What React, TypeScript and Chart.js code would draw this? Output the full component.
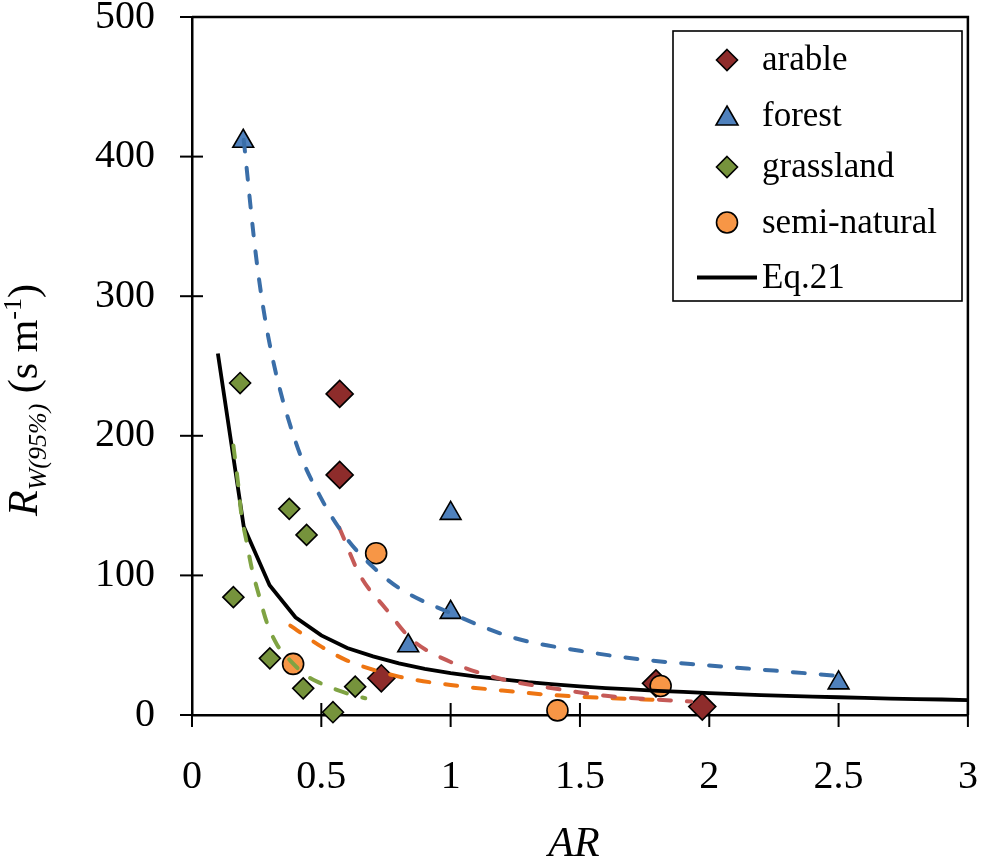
import React, { useEffect, useRef } from "react";
import { Chart, registerables } from "chart.js";

Chart.register(...registerables);

// ---- Data ----
const arableX = [0.571, 0.571, 0.732, 1.794, 1.973];
const arableY = [230, 172, 26.3, 22.7, 6.0];

const forestX = [0.198, 1.0, 1.0, 0.836, 2.5];
const forestY = [411, 144.4, 73.5, 49.6, 23];

const grassX = [0.186, 0.376, 0.443, 0.16, 0.301, 0.43, 0.631, 0.545];
const grassY = [237.8, 147.7, 129, 84.4, 40.6, 19.1, 20.3, 2.0];

const semiX = [0.712, 0.391, 1.413, 1.812];
const semiY = [115.9, 36.6, 3.3, 20.8];

const eqX = [0.1, 0.2, 0.3, 0.4, 0.5, 0.6, 0.7, 0.8, 0.9, 1.0, 1.1, 1.2, 1.3, 1.4, 1.5, 1.6, 1.7, 1.8, 1.9, 2.0, 2.1, 2.2, 2.3, 2.4, 2.5, 2.6, 2.7, 2.8, 2.9, 3.0];
const eqY = [259, 135, 93, 70, 57, 48, 42, 37, 33, 30, 27.5, 25.5, 23.5, 22, 20.5, 19.3, 18.3, 17.3, 16.5, 15.7, 15, 14.3, 13.7, 13.2, 12.7, 12.2, 11.8, 11.4, 11.1, 10.7];

const trendForestX = [0.2, 0.25, 0.3, 0.4, 0.5, 0.6, 0.7, 0.8, 1.0, 1.25, 1.5, 1.75, 2.0, 2.25, 2.5];
const trendForestY = [412, 325, 266, 196, 155, 126, 106, 91, 73, 55, 46, 39.5, 35.5, 31.8, 28];

const trendArableX = [0.57, 0.65, 0.75, 0.85, 1.0, 1.2, 1.4, 1.6, 1.8, 1.93];
const trendArableY = [134, 100, 76, 54, 38, 25.6, 19, 13.8, 11, 9.6];

const trendSemiX = [0.38, 0.5, 0.6, 0.8, 1.0, 1.2, 1.4, 1.6, 1.81];
const trendSemiY = [64, 49, 39, 27.5, 21.5, 17.5, 14.2, 12.2, 10.7];

const trendGrassX = [0.16, 0.18, 0.19, 0.21, 0.23, 0.26, 0.29, 0.33, 0.38, 0.44, 0.5, 0.56, 0.62, 0.67];
const trendGrassY = [193, 163, 145, 125, 106, 85, 66, 50, 39, 28.5, 22.5, 18, 14.3, 12];

const xTicks = [0, 0.5, 1, 1.5, 2, 2.5, 3];
const yTicks = [0, 100, 200, 300, 400, 500];

const legendLabels = ["arable", "forest", "grassland", "semi-natural", "Eq.21"];

const COL_ARABLE = "#8E2C2B";
const COL_FOREST = "#4F81BD";
const COL_GRASS = "#76933C";
const COL_SEMI = "#F79646";

const SERIF = '"Liberation Serif", "Times New Roman", serif';

const pts = (xs: number[], ys: number[]) => xs.map((x, i) => ({ x, y: ys[i] }));

function drawMarker(ctx: CanvasRenderingContext2D, kind: string, x: number, y: number, r: number, fill: string) {
  ctx.save();
  ctx.beginPath();
  if (kind === "diamond") {
    ctx.moveTo(x, y - r);
    ctx.lineTo(x + r, y);
    ctx.lineTo(x, y + r);
    ctx.lineTo(x - r, y);
    ctx.closePath();
  } else if (kind === "triangle") {
    const h = r * 1.73;
    ctx.moveTo(x, y - h / 2);
    ctx.lineTo(x + r, y + h / 2);
    ctx.lineTo(x - r, y + h / 2);
    ctx.closePath();
  } else {
    ctx.arc(x, y, r, 0, Math.PI * 2);
  }
  ctx.fillStyle = fill;
  ctx.fill();
  ctx.lineWidth = 1.6;
  ctx.strokeStyle = "#000";
  ctx.lineJoin = "miter";
  ctx.stroke();
  ctx.restore();
}

const customPlugin = {
  id: "customDraw",
  beforeDatasetsDraw(chart: any) {
    const { ctx, chartArea } = chart;
    const xs = chart.scales.x;
    const ys = chart.scales.y;
    ctx.save();
    ctx.strokeStyle = "#000";
    ctx.lineWidth = 2.5;
    ctx.beginPath();
    ctx.moveTo(chartArea.left, chartArea.top);
    ctx.lineTo(chartArea.right, chartArea.top);
    ctx.lineTo(chartArea.right, chartArea.bottom);
    ctx.stroke();
    ctx.lineWidth = 2;
    yTicks.forEach((v) => {
      const py = ys.getPixelForValue(v);
      ctx.beginPath();
      ctx.moveTo(chartArea.left - 12, py);
      ctx.lineTo(chartArea.left + 11, py);
      ctx.stroke();
    });
    xTicks.forEach((v) => {
      const px = xs.getPixelForValue(v);
      ctx.beginPath();
      ctx.moveTo(px, chartArea.bottom - 12);
      ctx.lineTo(px, chartArea.bottom + 12);
      ctx.stroke();
    });
    ctx.restore();
  },
  afterDraw(chart: any) {
    const { ctx } = chart;
    ctx.save();
    ctx.fillStyle = "#000";
    ctx.font = `italic 42px ${SERIF}`;
    ctx.textAlign = "center";
    ctx.textBaseline = "alphabetic";
    ctx.fillText("AR", 574, 856);

    const segs = [
      { t: "R", f: `italic 42px ${SERIF}`, dy: 0 },
      { t: "W(95%)", f: `italic 26px ${SERIF}`, dy: 9 },
      { t: " (s m", f: `42px ${SERIF}`, dy: 0 },
      { t: "-1", f: `26px ${SERIF}`, dy: -16 },
      { t: ")", f: `42px ${SERIF}`, dy: 0 },
    ];
    let total = 0;
    segs.forEach((s) => {
      ctx.font = s.f;
      total += ctx.measureText(s.t).width;
    });
    ctx.translate(37, 400);
    ctx.rotate(-Math.PI / 2);
    ctx.textAlign = "left";
    let cx = -total / 2;
    segs.forEach((s) => {
      ctx.font = s.f;
      ctx.fillText(s.t, cx, s.dy);
      cx += ctx.measureText(s.t).width;
    });
    ctx.setTransform(1, 0, 0, 1, 0, 0);

    const lx = 673, ly = 31, lw = 289, lh = 270;
    ctx.fillStyle = "#fff";
    ctx.fillRect(lx, ly, lw, lh);
    ctx.strokeStyle = "#000";
    ctx.lineWidth = 1.6;
    ctx.strokeRect(lx, ly, lw, lh);
    const rowY = [60, 115.5, 167, 222.5, 277.5];
    const kinds = ["diamond", "triangle", "diamond", "circle", "line"];
    const fills = [COL_ARABLE, COL_FOREST, COL_GRASS, COL_SEMI, "#000"];
    rowY.forEach((y, i) => {
      if (kinds[i] === "line") {
        ctx.beginPath();
        ctx.strokeStyle = "#000";
        ctx.lineWidth = 4;
        ctx.moveTo(697, y);
        ctx.lineTo(757, y);
        ctx.stroke();
      } else {
        drawMarker(ctx, kinds[i], 727, y, kinds[i] === "triangle" ? 11 : 10.5, fills[i]);
      }
      ctx.fillStyle = "#000";
      ctx.font = `35px ${SERIF}`;
      ctx.textAlign = "left";
      ctx.textBaseline = "alphabetic";
      ctx.fillText(legendLabels[i], 762, y + 10);
    });
    ctx.restore();
  },
};

const dashed = (label: string, xs: number[], ys: number[], color: string) => ({
  label,
  data: pts(xs, ys),
  showLine: true,
  borderColor: color,
  borderWidth: 4,
  borderDash: [12, 16],
  borderCapStyle: "round",
  pointRadius: 0,
  pointHoverRadius: 0,
  cubicInterpolationMode: "monotone",
  fill: false,
  clip: false,
  order: 0,
});

export default function App() {
  const ref = useRef<HTMLCanvasElement | null>(null);
  useEffect(() => {
    if (!ref.current) return;
    const chart = new Chart(ref.current, {
      type: "scatter",
      data: {
        datasets: [
          dashed("trend forest", trendForestX, trendForestY, "#3A6EA8"),
          dashed("trend arable", trendArableX, trendArableY, "#C55A57"),
          dashed("trend semi", trendSemiX, trendSemiY, "#EE7512"),
          dashed("trend grass", trendGrassX, trendGrassY, "#7FA343"),
          {
            label: "Eq.21",
            data: pts(eqX, eqY),
            showLine: true,
            borderColor: "#000",
            borderWidth: 3.8,
            pointRadius: 0,
            tension: 0,
            clip: false,
            order: 1,
          } as any,
          {
            label: "semi-natural",
            data: pts(semiX, semiY),
            pointStyle: "circle",
            pointRadius: 10.5,
            backgroundColor: COL_SEMI,
            borderColor: "#000",
            borderWidth: 1.6,
            clip: false,
            order: 2,
          },
          {
            label: "grassland",
            data: pts(grassX, grassY),
            pointStyle: "rectRot",
            pointRadius: 10.5,
            backgroundColor: COL_GRASS,
            borderColor: "#000",
            borderWidth: 1.6,
            clip: false,
            order: 3,
          },
          {
            label: "forest",
            data: pts(forestX, forestY),
            pointStyle: "triangle",
            pointRadius: 12,
            backgroundColor: COL_FOREST,
            borderColor: "#000",
            borderWidth: 1.6,
            clip: false,
            order: 4,
          },
          {
            label: "arable",
            data: pts(arableX, arableY),
            pointStyle: "rectRot",
            pointRadius: 13.5,
            backgroundColor: COL_ARABLE,
            borderColor: "#000",
            borderWidth: 1.6,
            clip: false,
            order: 5,
          },
        ] as any,
      },
      options: {
        animation: false,
        responsive: false,
        maintainAspectRatio: false,
        layout: { padding: { left: 0, top: 17, right: 12, bottom: 0 } },
        plugins: {
          legend: { display: false },
          tooltip: { enabled: false },
        },
        scales: {
          x: {
            type: "linear",
            min: 0,
            max: 3,
            afterBuildTicks: (scale: any) => {
              scale.ticks = xTicks.map((v) => ({ value: v }));
            },
            afterFit: (scale: any) => {
              scale.height = 147;
              scale.paddingLeft = 0;
              scale.paddingRight = 0;
            },
            grid: { display: false, drawTicks: false },
            border: { display: true, color: "#000", width: 2.5 },
            ticks: {
              padding: 38,
              color: "#000",
              maxRotation: 0,
              autoSkip: false,
              font: { family: SERIF, size: 40, lineHeight: 1.2 },
              callback: (v: any) => String(v),
            },
          },
          y: {
            type: "linear",
            min: 0,
            max: 500,
            afterBuildTicks: (scale: any) => {
              scale.ticks = yTicks.map((v) => ({ value: v }));
            },
            afterFit: (scale: any) => {
              scale.width = 192;
              scale.paddingTop = 0;
              scale.paddingBottom = 0;
            },
            grid: { display: false, drawTicks: false },
            border: { display: true, color: "#000", width: 2.5 },
            ticks: {
              padding: 37,
              color: "#000",
              autoSkip: false,
              font: { family: SERIF, size: 40, lineHeight: 1.2 },
              callback: (v: any) => String(v),
            },
          },
        },
      } as any,
      plugins: [customPlugin],
    });
    return () => chart.destroy();
  }, []);
  return (
    <div style={{ position: "fixed", left: 0, top: 0, width: 983, height: 862, background: "#fff" }}>
      <canvas ref={ref} width={983} height={862} />
    </div>
  );
}
